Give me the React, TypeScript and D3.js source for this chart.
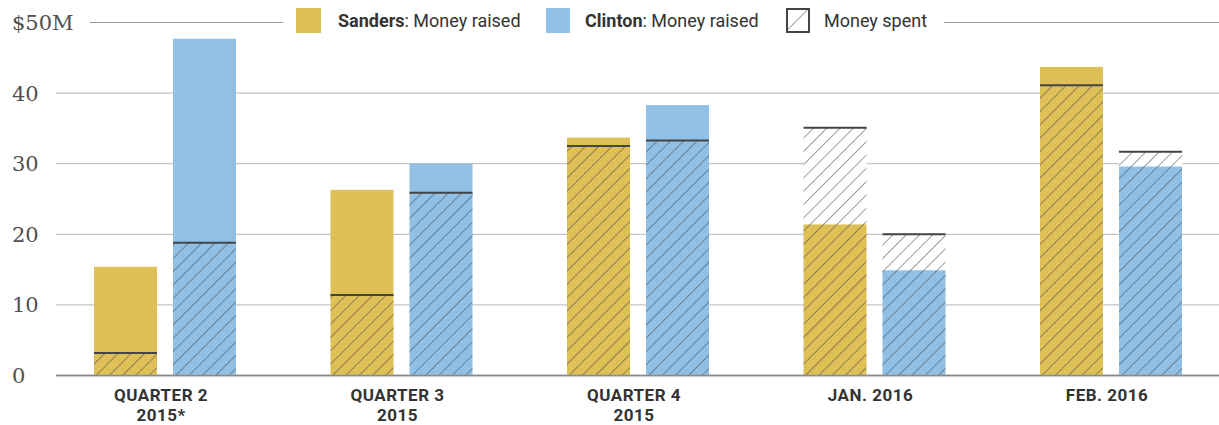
import React from "react";
import * as d3 from "d3";

const categories: string[][] = [
  ["QUARTER 2", "2015*"],
  ["QUARTER 3", "2015"],
  ["QUARTER 4", "2015"],
  ["JAN. 2016"],
  ["FEB. 2016"],
];
const candidates = ["Sanders", "Clinton"];
const sandersRaised = [15.4, 26.3, 33.7, 21.4, 43.7];
const sandersSpent = [3.2, 11.4, 32.5, 35.1, 41.1];
const clintonRaised = [47.7, 30.0, 38.3, 14.9, 29.6];
const clintonSpent = [18.8, 25.9, 33.3, 20.0, 31.7];
const yTicks = [0, 10, 20, 30, 40, 50];
const yTopLabel = "$50M";

const W = 1219;
const H = 425;
const colors: Record<string, string> = { Sanders: "#DEC057", Clinton: "#90C0E6" };

export default function App() {
  const y = d3.scaleLinear().domain([0, 50]).range([375.5, 22.5]);
  const keys = categories.map((c) => c.join(" "));
  const x0 = d3.scaleBand<string>().domain(keys).range([46.75, 46.75 + 236.5 * 5]).padding(0);
  const x1 = d3
    .scaleBand<string>()
    .domain(candidates)
    .range([-71, 71])
    .paddingInner(16 / 79)
    .paddingOuter(0);

  const series: Record<string, { raised: number[]; spent: number[] }> = {
    Sanders: { raised: sandersRaised, spent: sandersSpent },
    Clinton: { raised: clintonRaised, spent: clintonSpent },
  };

  const gridX0 = 56;
  const font = "Roboto, 'Noto Sans', sans-serif";
  const tickFont = "'DejaVu Serif', serif";

  return (
    <svg
      width={W}
      height={H}
      style={{ position: "absolute", left: 0, top: 0, display: "block" }}
    >
      <defs>
        <pattern
          id="hatch"
          patternUnits="userSpaceOnUse"
          width={9.4}
          height={9.4}
          patternTransform="rotate(45)"
        >
          <line x1={0} y1={0} x2={0} y2={9.4} stroke="#4a4a4a" strokeWidth={1.1} />
        </pattern>
        <pattern
          id="hatchLegend"
          patternUnits="userSpaceOnUse"
          width={16}
          height={16}
          patternTransform="translate(786,8) rotate(45)"
        >
          <line x1={0} y1={0} x2={0} y2={16} stroke="#4a4a4a" strokeWidth={1.1} />
        </pattern>
      </defs>

      {/* gridlines */}
      {yTicks.map((t) =>
        t === 50 ? (
          <g key={t}>
            <line x1={90} x2={283} y1={y(t)} y2={y(t)} stroke="#999" strokeWidth={1} />
            <line x1={944} x2={W} y1={y(t)} y2={y(t)} stroke="#999" strokeWidth={1} />
          </g>
        ) : (
          <line
            key={t}
            x1={gridX0}
            x2={W}
            y1={y(t)}
            y2={y(t)}
            stroke={t === 0 ? "#8a8a8a" : "#c4c4c4"}
            strokeWidth={t === 0 ? 1.6 : 1.2}
          />
        )
      )}

      {/* y tick labels */}
      {yTicks.map((t) => (
        <text
          key={"l" + t}
          x={12}
          y={y(t)}
          dy="0.36em"
          fontFamily={tickFont}
          fontSize={21}
          fill="#4f4f4f"
        >
          {t === 50 ? yTopLabel : String(t)}
        </text>
      ))}

      {/* bars */}
      {keys.map((k, i) => (
        <g key={k} transform={`translate(${x0(k)! + x0.bandwidth() / 2},0)`}>
          {candidates.map((c) => {
            const raised = series[c].raised[i];
            const spent = series[c].spent[i];
            const bx = x1(c)!;
            const bw = x1.bandwidth();
            return (
              <g key={c}>
                {spent > raised && (
                  <rect x={bx} width={bw} y={y(spent)} height={y(raised) - y(spent)} fill="#fff" />
                )}
                <rect
                  x={bx}
                  width={bw}
                  y={y(raised)}
                  height={y(0) - y(raised)}
                  fill={colors[c]}
                />
                <rect
                  x={bx}
                  width={bw}
                  y={y(spent)}
                  height={y(0) - y(spent)}
                  fill="url(#hatch)"
                />
                <line
                  x1={bx}
                  x2={bx + bw}
                  y1={y(spent)}
                  y2={y(spent)}
                  stroke="#444"
                  strokeWidth={2}
                />
              </g>
            );
          })}
          {categories[i].map((line, j) => (
            <text
              key={j}
              x={-4}
              y={400.5 + j * 20}
              textAnchor="middle"
              fontFamily={font}
              fontWeight={700}
              fontSize={17}
              letterSpacing={0.5}
              fill="#333"
            >
              {line}
            </text>
          ))}
        </g>
      ))}
      <line x1={gridX0} x2={W} y1={y(0)} y2={y(0)} stroke="#8a8a8a" strokeWidth={1.6} />

      {/* legend */}
      <rect x={296} y={8} width={25} height={25} fill={colors.Sanders} />
      <text x={338} y={27} fontFamily={font} fontSize={18} fill="#333">
        <tspan fontWeight={700}>Sanders</tspan>
        <tspan>: Money raised</tspan>
      </text>
      <rect x={546} y={8} width={24} height={25} fill={colors.Clinton} />
      <text x={585} y={27} fontFamily={font} fontSize={18} fill="#333">
        <tspan fontWeight={700}>Clinton</tspan>
        <tspan>: Money raised</tspan>
      </text>
      <rect
        x={787}
        y={9}
        width={22}
        height={23}
        fill="url(#hatchLegend)"
        stroke="#444"
        strokeWidth={2}
      />
      <text x={824} y={27} fontFamily={font} fontSize={18} fill="#333">
        Money spent
      </text>
    </svg>
  );
}
